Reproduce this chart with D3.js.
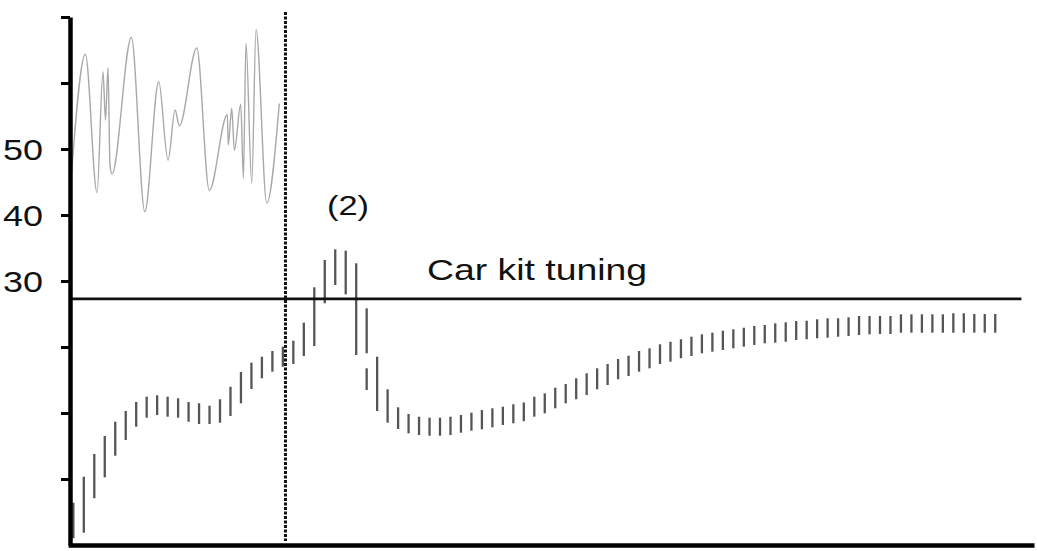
<!DOCTYPE html>
<html>
<head>
<meta charset="utf-8">
<script src="https://cdn.jsdelivr.net/npm/d3@7"></script>
<style>
  html, body { margin: 0; padding: 0; background: #fff; }
  svg { display: block; }
  text { font-family: "Liberation Sans", Arial, sans-serif; fill: #111; }
</style>
</head>
<body>
<svg id="chart" width="1037" height="551"></svg>
<script>
// ---------- data ----------
const yTickValues = [0, 10, 20, 30, 40, 50, 60, 70];
const yTickLabels = [30, 40, 50];

// range bars (index 1..89)
const barHigh = [-3.59, 0.35, 3.79, 6.52, 8.68, 10.3, 11.67, 12.47, 12.68, 12.47,
  12.23, 11.67, 11.47, 11.11, 12.08, 13.98, 16.21, 17.62, 18.53, 19.39,
  20.05, 20.95, 23.68, 29.05, 33.18, 34.8, 34.59, 32.68, 25.86, 18.53,
  13.59, 10.86, 9.85, 9.44, 9.29, 9.29, 9.44, 9.7, 10.05, 10.45,
  10.71, 10.95, 11.32, 11.59, 12.47, 12.98, 13.83, 14.39, 15.26, 16.02,
  16.77, 17.42, 18.18, 18.68, 19.39, 19.8, 20.41, 20.8, 21.17, 21.56,
  21.92, 22.17, 22.47, 22.68, 22.92, 23.18, 23.33, 23.59, 23.74, 23.94,
  23.98, 24.2, 24.35, 24.35, 24.5, 24.7, 24.7, 24.7, 24.7, 24.95,
  24.95, 24.95, 24.95, 24.95, 25.11, 25.11, 25.0, 25.0, 25.0];
const barLow = [-8.98, -8.14, -2.92, 0.26, 3.53, 5.91, 7.92, 9.29, 9.7, 9.44,
  9.29, 8.68, 8.33, 8.33, 8.53, 9.55, 11.47, 13.64, 15.26, 16.26,
  17.02, 17.42, 18.64, 20.15, 26.62, 29.39, 27.98, 18.79, 19.05, 10.3,
  8.53, 7.58, 6.92, 6.67, 6.56, 6.56, 6.67, 7.02, 7.32, 7.53,
  7.83, 8.18, 8.44, 8.76, 9.44, 9.95, 10.71, 11.47, 12.08, 12.73,
  13.59, 14.24, 15.11, 15.61, 16.26, 16.77, 17.42, 17.77, 18.29, 18.64,
  19.05, 19.29, 19.55, 19.8, 20.05, 20.3, 20.56, 20.65, 20.8, 21.06,
  21.17, 21.32, 21.41, 21.56, 21.67, 21.82, 21.92, 21.97, 21.97, 22.17,
  22.17, 22.17, 22.17, 22.17, 22.17, 22.17, 22.17, 22.17, 22.17];

// second short segment drawn under bar 29
const extraT = [29];
const extraHigh = [16.77];
const extraLow = [13.48];

// grey oscillating trace
const waveT = [0.78, 2.15, 3.26, 3.83, 4.07, 4.31, 4.50, 4.69, 6.54, 7.82,
  9.15, 10.04, 10.71, 11.12, 12.78, 13.98, 15.70, 15.79, 16.12, 16.37,
  16.98, 17.23, 17.48, 18.03, 18.44, 19.46, 20.66];
const waveV = [45.3, 64.35, 43.4, 61.7, 54.4, 62.3, 47.6, 46.2, 66.9, 40.5,
  60.2, 48.3, 55.9, 53.5, 65.3, 43.7, 55.2, 50.6, 56.2, 49.8,
  56.8, 45.6, 66.0, 44.8, 68.1, 41.8, 56.9];

const refValue = 27.3;          // "Car kit tuning" level
const refLabel = "Car kit tuning";
const markerT = 21.25;          // dashed vertical marker
const markerLabel = "(2)";

// ---------- scales ----------
const svg = d3.select("#chart");
const x = d3.scaleLinear().domain([0.5, 92.7]).range([68.1, 1034]);
const y = d3.scaleLinear().domain([-10, 70]).range([545, 17]);

// ---------- grey wave ----------
const wave = waveT.map((t, i) => [t, waveV[i]]);
svg.append("path")
  .datum(wave)
  .attr("fill", "none")
  .attr("stroke", "#a9a9a9")
  .attr("stroke-width", 1.4)
  .attr("d", d3.line().x(d => x(d[0])).y(d => y(d[1])).curve(d3.curveMonotoneX));

// ---------- range bars ----------
const bars = barHigh.map((h, i) => ({ t: i + 1, hi: h, lo: barLow[i] }));
svg.append("g").selectAll("line").data(bars).join("line")
  .attr("x1", d => x(d.t)).attr("x2", d => x(d.t))
  .attr("y1", d => y(d.hi)).attr("y2", d => y(d.lo))
  .attr("stroke", "#555").attr("stroke-width", 2.3);

const extras = extraT.map((t, i) => ({ t, hi: extraHigh[i], lo: extraLow[i] }));
svg.append("g").selectAll("line").data(extras).join("line")
  .attr("x1", d => x(d.t)).attr("x2", d => x(d.t))
  .attr("y1", d => y(d.hi)).attr("y2", d => y(d.lo))
  .attr("stroke", "#555").attr("stroke-width", 2.3);

// ---------- reference line ----------
svg.append("line")
  .attr("x1", x(0.7)).attr("x2", x(91.5))
  .attr("y1", y(refValue)).attr("y2", y(refValue))
  .attr("stroke", "#111").attr("stroke-width", 2.8);

svg.append("text")
  .attr("x", 427).attr("y", 280)
  .attr("font-size", 30)
  .attr("textLength", 220).attr("lengthAdjust", "spacingAndGlyphs")
  .text(refLabel);

// ---------- dashed marker ----------
svg.append("line")
  .attr("x1", x(markerT)).attr("x2", x(markerT))
  .attr("y1", 12).attr("y2", 541)
  .attr("stroke", "#111").attr("stroke-width", 3)
  .attr("stroke-dasharray", "3,1.5");

svg.append("text")
  .attr("x", 327).attr("y", 215)
  .attr("font-size", 27)
  .attr("textLength", 42).attr("lengthAdjust", "spacingAndGlyphs")
  .text(markerLabel);

// ---------- axes ----------
const yAxis = d3.axisLeft(y)
  .tickValues(yTickValues)
  .tickSize(9)
  .tickSizeOuter(0)
  .tickPadding(18)
  .tickFormat(d => yTickLabels.includes(d) ? d : "");
const gy = svg.append("g").attr("transform", "translate(70,0)").call(yAxis);
gy.select(".domain").attr("stroke", "#000").attr("stroke-width", 4.5);
gy.selectAll(".tick line").attr("stroke", "#000").attr("stroke-width", 3);
gy.selectAll(".tick text")
  .attr("font-size", 30)
  .attr("font-family", "'Liberation Sans', Arial, sans-serif")
  .attr("fill", "#111")
  .attr("dy", "0.36em")
  .each(function(d) {
    if (yTickLabels.includes(d)) d3.select(this).attr("textLength", 40).attr("lengthAdjust", "spacingAndGlyphs");
  });

const xAxis = d3.axisBottom(x).tickValues([]).tickSizeOuter(0);
const gx = svg.append("g").attr("transform", "translate(0,545)").call(xAxis);
gx.select(".domain").attr("stroke", "#000").attr("stroke-width", 4.5);
</script>
</body>
</html>
